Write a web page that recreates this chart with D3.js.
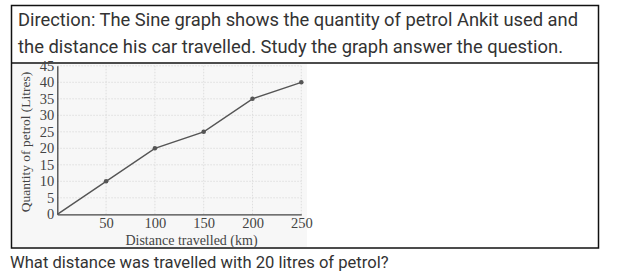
<!DOCTYPE html>
<html><head><meta charset="utf-8">
<script src="https://cdn.jsdelivr.net/npm/d3@7"></script>
<style>body{margin:0;background:#fff}svg{display:block}</style>
</head><body>
<svg id="c" width="622" height="274"></svg>
<script>
const distances = [0, 50, 100, 150, 200, 250];
const petrol = [0, 10, 20, 25, 35, 40];
const xTicks = [50, 100, 150, 200, 250];
const yTicks = [0, 5, 10, 15, 20, 25, 30, 35, 40, 45];
const titleLines = ["Direction: The Sine graph shows the quantity of petrol Ankit used and",
                    "the distance his car travelled. Study the graph answer the question."];
const question = "What distance was travelled with 20 litres of petrol?";
const xTitle = "Distance travelled (km)";
const yTitle = "Quantity of petrol (Litres)";

const svg = d3.select("#c");
// frame
svg.append("rect").attr("x",11.5).attr("y",5.5).attr("width",587).attr("height",242.5)
  .attr("fill","none").attr("stroke","#111").attr("stroke-width",1.5);
svg.append("line").attr("x1",11).attr("x2",599).attr("y1",63).attr("y2",63)
  .attr("stroke","#111").attr("stroke-width",1.5);
// scan background
svg.append("rect").attr("x",13).attr("y",64).attr("width",294).attr("height",183).attr("fill","#f7f7f7");

const titleWidths = [560, 545];
svg.selectAll("text.title").data(titleLines).join("text").attr("class","title")
  .attr("x",18).attr("y",(d,i)=>26+i*27)
  .attr("font-family","Roboto, sans-serif").attr("font-size",17.5).attr("fill","#333")
  .attr("textLength",(d,i)=>titleWidths[i]).attr("lengthAdjust","spacingAndGlyphs")
  .text(d=>d);
svg.append("text").attr("x",10).attr("y",268)
  .attr("font-family","Roboto, sans-serif").attr("font-size",16.6).attr("fill","#333").text(question);

const x = d3.scaleLinear().domain([0,250]).range([57.3,301.3]);
const y = d3.scaleLinear().domain([0,45]).range([214.3,65.8]);
const g = svg.append("g");
// grid
g.selectAll("line.gx").data(xTicks).join("line").attr("class","gx")
  .attr("x1",d=>x(d)).attr("x2",d=>x(d)).attr("y1",y(0)).attr("y2",y(45))
  .attr("stroke","#d8d8d8").attr("stroke-width",0.8).attr("stroke-dasharray","1.5,1.5");
g.selectAll("line.gy").data(yTicks.slice(1)).join("line").attr("class","gy")
  .attr("x1",x(0)).attr("x2",x(250)).attr("y1",d=>y(d)).attr("y2",d=>y(d))
  .attr("stroke","#d8d8d8").attr("stroke-width",0.8).attr("stroke-dasharray","1.5,1.5");

const font = "'Liberation Serif', 'Times New Roman', serif";
const xAxis = g.append("g").attr("transform",`translate(0,${y(0)})`)
  .call(d3.axisBottom(x).tickValues(xTicks).tickSize(0).tickPadding(3));
const yAxis = g.append("g").attr("transform",`translate(${x(0)},0)`)
  .call(d3.axisLeft(y).tickValues(yTicks).tickSize(0).tickPadding(3));
[xAxis,yAxis].forEach(a=>{
  a.select(".domain").attr("stroke","#444").attr("stroke-width",1.3);
  a.selectAll("text").attr("font-family",font).attr("font-size",14.5).attr("fill","#444");
});
svg.append("text").attr("x",191.5).attr("y",245).attr("text-anchor","middle")
  .attr("font-family",font).attr("font-size",14).attr("fill","#444").text(xTitle);
svg.append("text").attr("transform","translate(30,142) rotate(-90)").attr("text-anchor","middle")
  .attr("font-family",font).attr("font-size",13.5).attr("fill","#444").text(yTitle);

const pts = distances.map((d,i)=>[d,petrol[i]]);
g.append("path").datum(pts).attr("fill","none").attr("stroke","#555").attr("stroke-width",1.4)
  .attr("d",d3.line().x(d=>x(d[0])).y(d=>y(d[1])));
g.selectAll("circle").data(pts.slice(1)).join("circle")
  .attr("cx",d=>x(d[0])).attr("cy",d=>y(d[1])).attr("r",2.3).attr("fill","#555");
</script>
</body></html>
